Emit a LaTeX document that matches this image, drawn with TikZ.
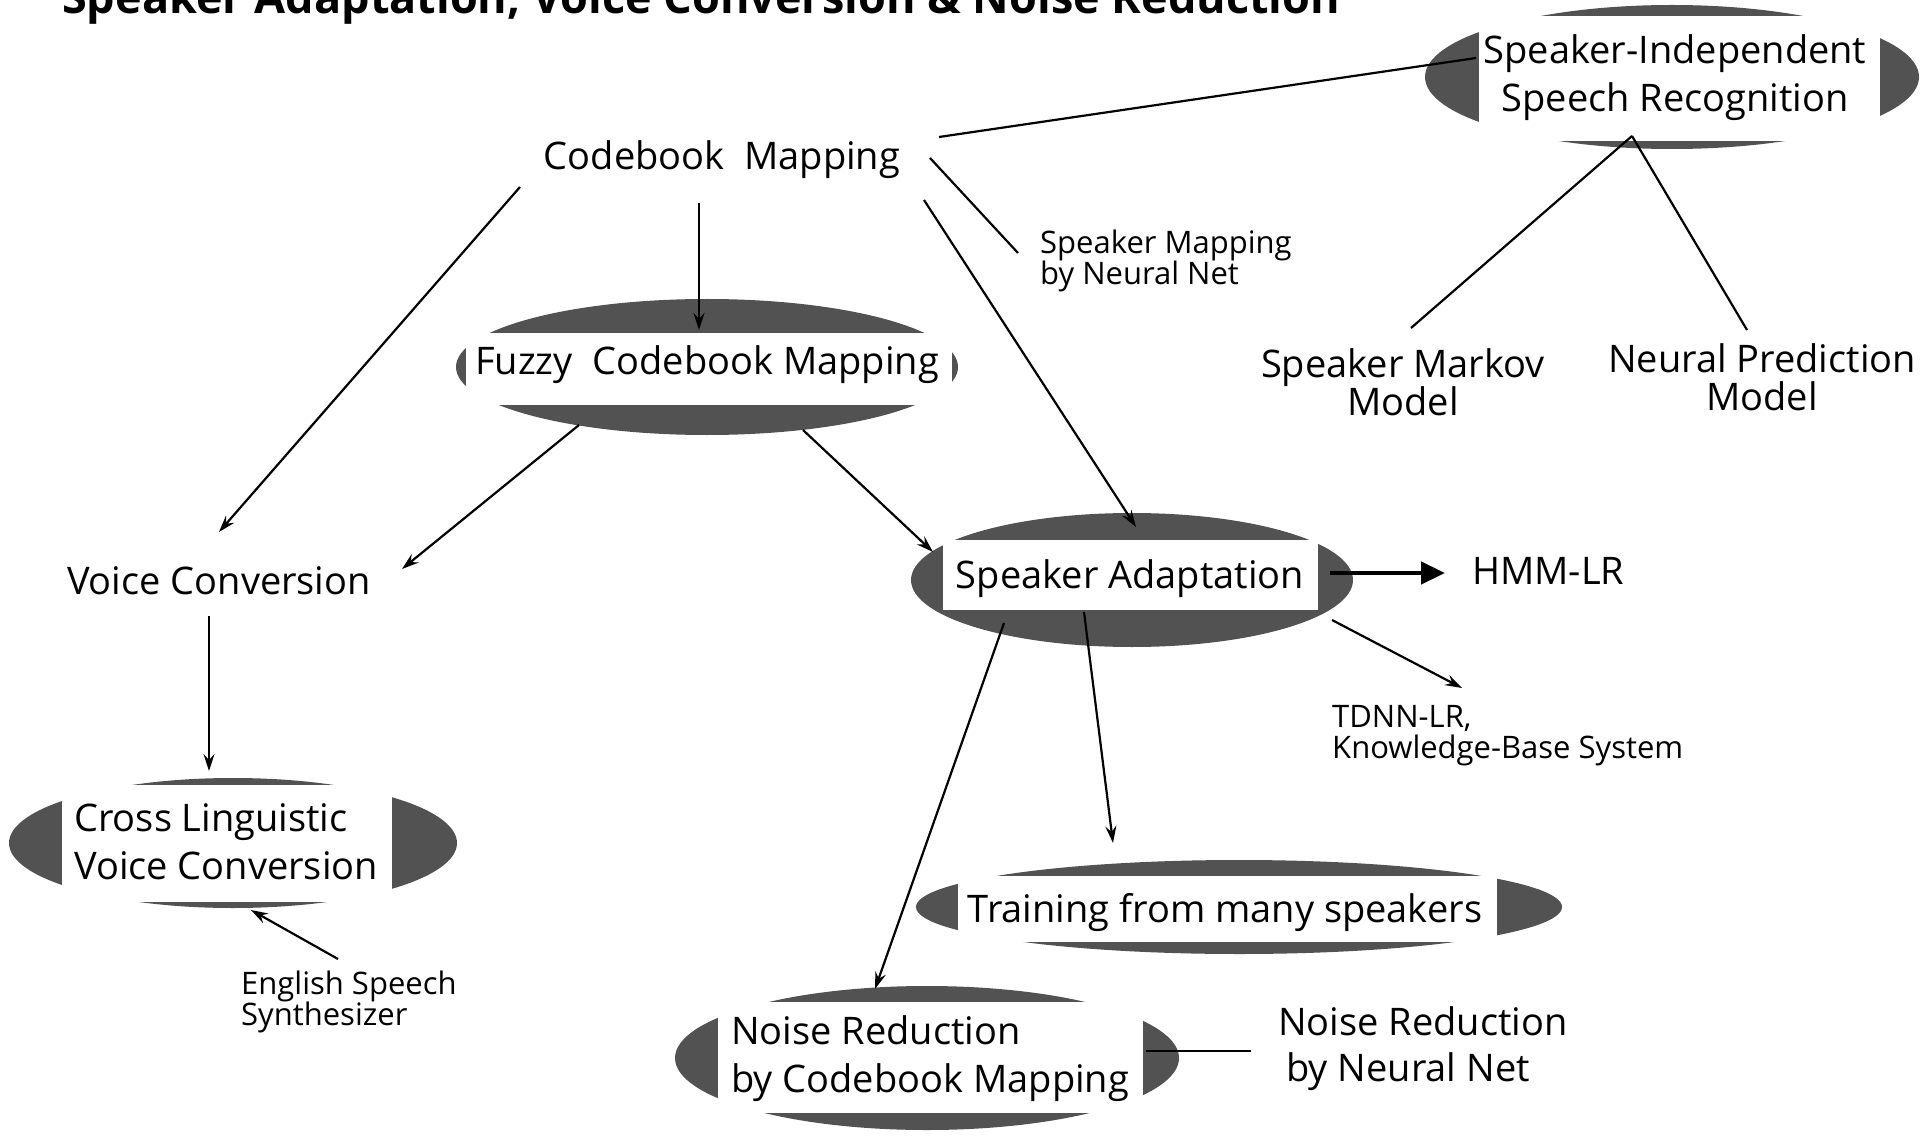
\documentclass[tikz,border=0pt]{standalone}
\usepackage{fontspec}
\setmainfont{Open Sans}
\usetikzlibrary{arrows.meta,shapes.geometric,calc}
\begin{document}
\begin{tikzpicture}[x=1pt,y=-1pt,
  halo/.style={ellipse, fill=black!68, inner sep=0pt, outer sep=0pt},
  pane/.style={rectangle, fill=white, inner sep=0pt, outer sep=0pt},
  big/.style={inner sep=0pt, font=\fontsize{38}{48}\selectfont},
  tight/.style={inner sep=0pt, font=\fontsize{38}{38}\selectfont},
  small/.style={inner sep=0pt, font=\fontsize{31}{31}\selectfont},
  link/.style={line width=2.2pt},
  arr/.style={line width=2.2pt, -{Stealth[length=17pt,width=11pt,inset=6pt]}},
  fat/.style={line width=4.5pt, -{Triangle[length=24pt,width=22pt]}}
]
\useasboundingbox (0,0) rectangle (1932,1139);
\fill[white] (0,0) rectangle (1932,1139);

% title (cut by the top edge, as in the reference)
\node[anchor=base west, inner sep=0pt, font=\fontsize{45}{45}\selectfont\bfseries] (title) at (62,14) {Speaker Adaptation, Voice Conversion \& Noise Reduction};

% shaded ellipses with white panes
\node[halo, minimum width=494pt, minimum height=144pt] (sisrE) at (1672,77) {};
\node[pane, minimum width=401pt, minimum height=125pt] (sisrR) at (1679.5,78.5) {};
\node[big, align=center, anchor=base] (sisr) at (1675,112) {Speaker-Independent\\Speech Recognition};

\node[halo, minimum width=502pt, minimum height=136pt] (fzE) at (707,367) {};
\node[pane, minimum width=486pt, minimum height=72pt] (fzR) at (709,369) {};
\node[big, anchor=base] (fz) at (707,374) {Fuzzy\ \ Codebook Mapping};

\node[halo, minimum width=442pt, minimum height=134pt] (saE) at (1132,580) {};
\node[pane, minimum width=375pt, minimum height=70pt] (saR) at (1130.5,575) {};
\node[big, anchor=base] (sa) at (1130,588) {Speaker Adaptation};

\node[halo, minimum width=448pt, minimum height=130pt] (clE) at (233,843) {};
\node[pane, minimum width=330pt, minimum height=117pt] (clR) at (227,843.5) {};
\node[big, align=left, anchor=base west] (cl) at (74,879) {Cross Linguistic\\Voice Conversion};

\node[halo, minimum width=646pt, minimum height=94pt] (trE) at (1239,907) {};
\node[pane, minimum width=539pt, minimum height=66pt] (trR) at (1227.5,909) {};
\node[big, anchor=base] (tr) at (1225,922) {Training from many speakers};

\node[halo, minimum width=504pt, minimum height=144pt] (nrE) at (927,1058) {};
\node[pane, minimum width=425pt, minimum height=111pt] (nrR) at (930.5,1057.5) {};
\node[big, align=left, anchor=base west] (nr) at (731,1092) {Noise Reduction\\by Codebook Mapping};

% plain labels
\node[big, anchor=base] (cb) at (722,170) {Codebook\ \ Mapping};
\node[big, anchor=base west] (hmm) at (1472,584) {HMM-LR};
\node[big, anchor=base] (vc) at (219,594) {Voice Conversion};
\node[tight, align=center, anchor=base] (smm) at (1403,415) {Speaker Markov\\Model};
\node[tight, align=center, anchor=base] (np) at (1762,410) {Neural Prediction\\Model};
\node[big, align=left, anchor=base west, font=\fontsize{38}{46}\selectfont] (nn) at (1278,1081) {Noise Reduction\\\hspace*{8pt}by Neural Net};
\node[small, align=left, anchor=base west] (sm) at (1040,285) {Speaker Mapping\\by Neural Net};
\node[small, align=left, anchor=base west] (td) at (1332,758) {TDNN-LR,\\Knowledge-Base System};
\node[small, align=left, anchor=base west] (es) at (241,1025) {English Speech\\Synthesizer};

% connectors
\draw[link] ($(cb.base)+(217,-33)$) -- ($(sisrE.center)+(-196,-19)$);
\draw[link] ($(cb.base)+(208,-12)$) -- ($(sm.base west)+(-22,-32)$);
\draw[arr] ($(cb.base)+(-202,17)$) -- ($(vc.base)+(0,-62)$);
\draw[arr] ($(cb.base)+(-23,33)$) -- ($(fzE.center)+(-8,-37)$);
\draw[arr] ($(cb.base)+(202,30)$) -- ($(saE.center)+(4,-53)$);
\draw[arr] ($(fzE.center)+(-128,58)$) -- ($(vc.base)+(183,-25)$);
\draw[arr] ($(fzE.center)+(96,63)$) -- ($(saE.center)+(-199,-28)$);
\draw[link] ($(sisrE.center)+(-40,59)$) -- ($(smm.base)+(8,-87)$);
\draw[link] ($(sisrE.center)+(-40,59)$) -- ($(np.base)+(-15,-80)$);
\draw[arr] ($(vc.base)+(-10,22)$) -- ($(clE.center)+(-24,-72)$);
\draw[arr] ($(es.base west)+(97,-66)$) -- ($(clE.center)+(18,67)$);
\draw[fat] ($(saE.center)+(198,-7)$) -- ($(hmm.base west)+(-27,-11)$);
\draw[arr] ($(saE.center)+(200,40)$) -- ($(td.base west)+(130,-70)$);
\draw[arr] ($(saE.center)+(-48,32)$) -- ($(trE.center)+(-126,-64)$);
\draw[arr] ($(saE.center)+(-128,43)$) -- ($(nrE.center)+(-52,-69)$);
\draw[link] ($(nrE.center)+(219,-7)$) -- ($(nn.base west)+(-27,-30)$);
\end{tikzpicture}
\end{document}
